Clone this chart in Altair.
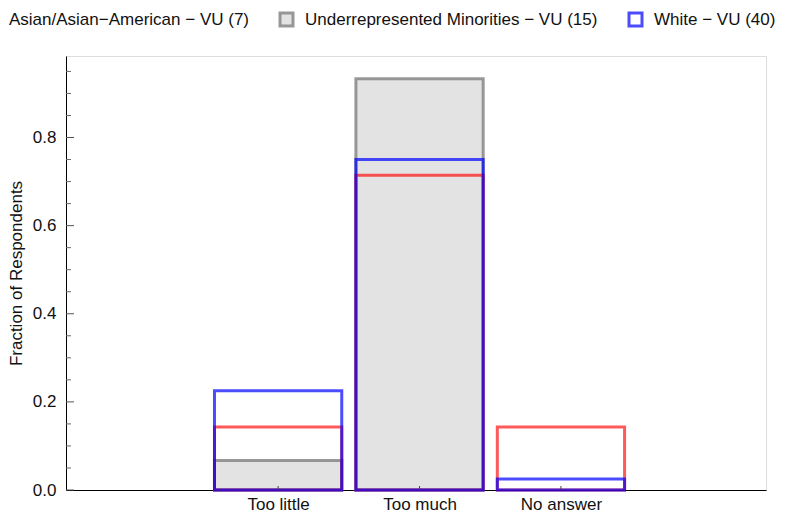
import altair as alt
import pandas as pd

categories = ["Too little", "Too much", "No answer"]
cat_index = [1, 2, 3]
groups = ["Asian/Asian\u2212American \u2212 VU (7)",
          "Underrepresented Minorities \u2212 VU (15)",
          "White \u2212 VU (40)"]
asian = [0.1429, 0.7143, 0.1429]
urm = [0.0667, 0.9333, 0.0]
white = [0.225, 0.75, 0.025]

draw_order = {groups[1]: 0, groups[0]: 1, groups[2]: 2}
rows = []
for g, vals in [(groups[1], urm), (groups[0], asian), (groups[2], white)]:
    for c, i, v in zip(categories, cat_index, vals):
        rows.append({"group": g, "cat": c, "idx": i, "value": v, "ord": draw_order[g]})
df = pd.DataFrame(rows)

y_major = [0.0, 0.2, 0.4, 0.6, 0.8]
y_minor = [0.05, 0.1, 0.15, 0.25, 0.3, 0.35, 0.45, 0.5, 0.55, 0.65, 0.7, 0.75, 0.85, 0.9, 0.95]

FONT = "Liberation Sans"
W, H = 700, 434
xscale = alt.Scale(domain=[-0.5, 4.45], nice=False, zero=False)
yscale = alt.Scale(domain=[0, 0.985], nice=False)

stroke_range = ["rgba(255,0,0,0.65)", "rgba(128,128,128,0.8)", "rgba(0,0,255,0.7)"]
fill_range = ["rgba(255,255,255,0)", "#e3e3e3", "rgba(255,255,255,0)"]

legend = alt.Legend(
    title=None, orient="none", legendX=-84, legendY=-45, direction="horizontal",
    symbolType="square", symbolSize=169, symbolStrokeWidth=3,
    labelFont=FONT, labelFontSize=17, labelColor="#111", labelOffset=10,
    columnPadding=25, labelLimit=500, symbolOpacity=1,
)

label_expr = "datum.value == 1 ? 'Too little' : datum.value == 2 ? 'Too much' : datum.value == 3 ? 'No answer' : ''"

bars = alt.Chart(df).transform_filter("datum.value > 0").transform_calculate(
    x0="datum.idx - 0.45", x1="datum.idx + 0.45"
).mark_rect(strokeWidth=3).encode(
    x=alt.X("x0:Q", scale=xscale, axis=alt.Axis(
        values=cat_index, labelExpr=label_expr, title=None, grid=False,
        ticks=False, tickSize=0, labelPadding=6, labelFont=FONT, labelFontSize=17,
        labelColor="#111", domainColor="#000", domainWidth=1)),
    x2="x1:Q",
    y=alt.Y("value:Q", scale=yscale, axis=alt.Axis(
        values=y_major, format=".1f", title="Fraction of Respondents", grid=False,
        ticks=False, tickSize=0, labelPadding=10, labelFont=FONT, labelFontSize=17,
        labelColor="#111", titleFont=FONT, titleFontSize=17, titleFontWeight="normal",
        titleColor="#111", titlePadding=7, domainColor="#000", domainWidth=1)),
    y2=alt.datum(0),
    stroke=alt.Stroke("group:N", scale=alt.Scale(domain=groups, range=stroke_range), legend=legend),
    fill=alt.Fill("group:N", scale=alt.Scale(domain=groups, range=fill_range), legend=legend),
    order=alt.Order("ord:Q"),
)

major_df = pd.DataFrame({"v": y_major})
minor_df = pd.DataFrame({"v": y_minor})
xt_df = pd.DataFrame({"i": cat_index})

major_ticks = alt.Chart(major_df).mark_rule(color="#555", strokeWidth=1).encode(
    y=alt.Y("v:Q", scale=yscale), x=alt.value(0), x2=alt.value(8))
minor_ticks = alt.Chart(minor_df).mark_rule(color="#666", strokeWidth=1).encode(
    y=alt.Y("v:Q", scale=yscale), x=alt.value(0), x2=alt.value(5))
x_ticks = alt.Chart(xt_df).mark_rule(color="#444", strokeWidth=1).encode(
    x=alt.X("i:Q", scale=xscale), y=alt.value(H), y2=alt.value(H - 4))

chart = alt.layer(bars, major_ticks, minor_ticks, x_ticks).properties(
    width=W, height=H, autosize="none",
    padding={"left": 58, "top": 48, "right": 11, "bottom": 25},
).configure_view(stroke=None).configure(background="white")

chart.save("out.html", embed_options={"renderer": "svg", "actions": False})
